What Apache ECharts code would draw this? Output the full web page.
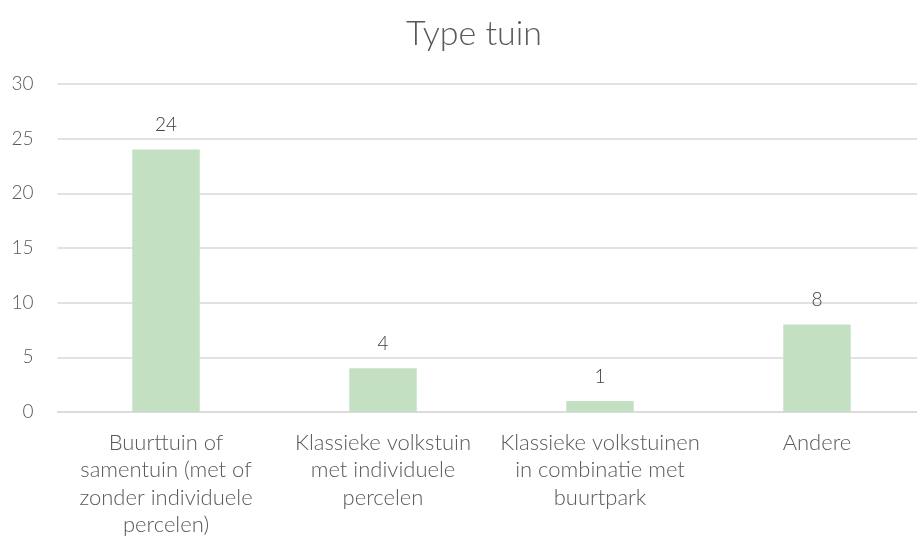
<!DOCTYPE html>
<html><head><meta charset="utf-8">
<script src="https://cdn.jsdelivr.net/npm/echarts@6/dist/echarts.min.js"></script>
<style>html,body{margin:0;padding:0;background:#fff;overflow:hidden;width:917px;height:540px}#c{width:926px;height:540px}</style>
</head><body><div id="c"></div>
<script>
const titleText = "Type tuin";
const categories = [
  "Buurttuin of samentuin (met of zonder individuele percelen)",
  "Klassieke volkstuin met individuele percelen",
  "Klassieke volkstuinen in combinatie met buurtpark",
  "Andere"
];
const categoryLabels = [
  "Buurttuin of\nsamentuin (met of\nzonder individuele\npercelen)",
  "Klassieke volkstuin\nmet individuele\npercelen",
  "Klassieke volkstuinen\nin combinatie met\nbuurtpark",
  "Andere"
];
const values = [24, 4, 1, 8];
const yTicks = { min: 0, max: 30, interval: 5 };

const FONT = "Lato";
const chart = echarts.init(document.getElementById('c'), null, {renderer: 'canvas'});
chart.setOption({
  animation: false,
  backgroundColor: '#fff',
  title: {
    text: titleText, left: 469, top: 12, textAlign: 'center',
    textStyle: { fontFamily: FONT, fontWeight: 300, fontSize: 34, color: '#595959' }
  },
  grid: { left: 57.5, top: 84, width: 868, height: 328, containLabel: false },
  xAxis: {
    type: 'category', data: categories,
    axisLine: { show: true, lineStyle: { color: '#d9d9d9', width: 1.5 } },
    axisTick: { show: false },
    axisLabel: {
      interval: 0, margin: 17, color: '#595959', fontFamily: FONT, fontWeight: 300, fontSize: 22, lineHeight: 27.5,
      formatter: (v, i) => categoryLabels[i]
    }
  },
  yAxis: {
    type: 'value', min: yTicks.min, max: yTicks.max, interval: yTicks.interval,
    axisLine: { show: false }, axisTick: { show: false },
    splitLine: { lineStyle: { color: '#d9d9d9', width: 1.5 } },
    axisLabel: { margin: 24, color: '#595959', fontFamily: FONT, fontWeight: 300, fontSize: 19 }
  },
  series: [{
    type: 'bar', data: values, barWidth: 67.5,
    itemStyle: { color: '#c3e1c2' },
    label: { show: true, position: 'top', distance: 15, color: '#404040', fontFamily: FONT, fontWeight: 300, fontSize: 19 }
  }]
});
</script></body></html>
